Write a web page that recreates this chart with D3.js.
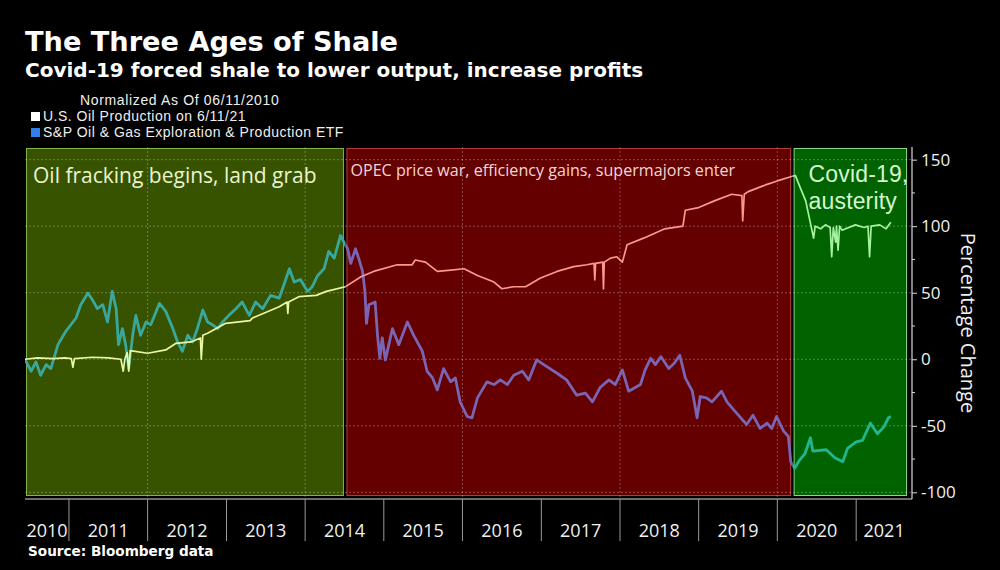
<!DOCTYPE html>
<html><head><meta charset="utf-8">
<script src="https://cdn.jsdelivr.net/npm/d3@7"></script>
<style>
html,body{margin:0;padding:0;background:#000;}
svg{display:block;}
</style></head>
<body>
<svg id="chart" width="1000" height="570"></svg>
<script>
// ---------------- DATA (dates as fractional years) ----------------
const oilTimes = [2010.44,2010.60,2010.80,2010.95,2011.03,2011.05,2011.07,2011.30,2011.50,2011.66,2011.69,2011.71,2011.74,2011.76,2011.78,2012.00,2012.23,2012.36,2012.55,2012.67,2012.68,2012.70,2012.76,2012.99,2013.30,2013.33,2013.67,2013.77,2013.78,2013.79,2013.92,2014.14,2014.27,2014.51,2014.71,2014.87,2015.17,2015.36,2015.40,2015.53,2015.68,2015.85,2016.02,2016.19,2016.40,2016.50,2016.65,2016.80,2016.99,2017.20,2017.41,2017.58,2017.67,2017.68,2017.69,2017.78,2017.79,2017.80,2017.88,2017.96,2018.03,2018.09,2018.30,2018.57,2018.80,2018.83,2019.00,2019.20,2019.42,2019.55,2019.56,2019.58,2019.63,2019.85,2020.00,2020.19,2020.23,2020.27,2020.36,2020.46,2020.48,2020.55,2020.61,2020.67,2020.69,2020.71,2020.74,2020.75,2020.77,2020.79,2020.82,2020.99,2021.10,2021.15,2021.17,2021.19,2021.30,2021.38,2021.44];
const oilValues = [0,1,0.5,1,0.5,-6,0.5,1.5,1,0,-9,0,5,-9,6.5,4.5,7,12,13,16,0,18,19.5,27,29,31,39.5,43,34.5,43,47,48,51,54.5,62,66,71,71,74.6,73,66,67,68,63,58,53,54.5,54.5,61,66,69.6,71,72,59.6,72,73,52.8,73,76,77,73,86,91,98,100,112,114,119,124,123,104,124,126,131,134,137.5,138,132,119,91,100,98,101,99,77,99,88,100,82,100,97,101,99,100,77,100,101,98,103];

const etfTimes = [2010.44,2010.52,2010.58,2010.64,2010.71,2010.77,2010.86,2010.96,2011.09,2011.15,2011.24,2011.30,2011.36,2011.43,2011.49,2011.55,2011.60,2011.63,2011.68,2011.72,2011.76,2011.81,2011.85,2011.91,2011.98,2012.04,2012.15,2012.23,2012.32,2012.38,2012.44,2012.51,2012.57,2012.63,2012.70,2012.76,2012.82,2012.89,2012.95,2013.03,2013.12,2013.20,2013.29,2013.37,2013.46,2013.56,2013.67,2013.73,2013.80,2013.86,2013.94,2014.03,2014.09,2014.16,2014.24,2014.30,2014.37,2014.45,2014.51,2014.54,2014.58,2014.64,2014.68,2014.73,2014.76,2014.78,2014.81,2014.89,2014.92,2014.95,2014.98,2015.02,2015.11,2015.19,2015.30,2015.38,2015.49,2015.55,2015.62,2015.68,2015.76,2015.85,2015.91,2015.97,2016.06,2016.12,2016.19,2016.31,2016.40,2016.48,2016.57,2016.65,2016.76,2016.84,2016.94,2017.07,2017.20,2017.32,2017.45,2017.56,2017.65,2017.75,2017.86,2017.94,2018.03,2018.11,2018.26,2018.32,2018.39,2018.45,2018.52,2018.62,2018.69,2018.76,2018.83,2018.92,2018.98,2019.02,2019.10,2019.17,2019.29,2019.36,2019.46,2019.61,2019.69,2019.78,2019.87,2019.93,2019.99,2020.08,2020.14,2020.17,2020.22,2020.28,2020.35,2020.42,2020.45,2020.62,2020.73,2020.83,2020.89,2021.00,2021.08,2021.18,2021.27,2021.35,2021.41,2021.44];
const etfValues = [0,-9,-2,-12,-4,-7,11,21,31,41,49.6,44.5,38,41,28,51,38,11,23,11,-7,18,33,18,28,26,42,36,23,13,6,18,13,23,37,28,26,23,28,33,38,43,33,43,38,48,46,56,68,58,60,51,54.5,63,68,81,76,93,86,83,72,83,76,66,51,27,41,43,18,0.7,16,-0.5,23,11,28,18,6,-9,-14,-23,-7,-17,-14,-32,-43,-44,-29,-17,-19,-15.5,-19,-12,-9,-15.5,-0.5,-5.5,-10.5,-15.5,-27,-25.5,-32,-21,-15.5,-19,-8,-24,-19,-8,0.7,-4,2,-7,-3,3,-14,-24,-44,-28,-29,-32,-24,-32,-39,-49,-42,-52,-48,-52,-43,-54,-58,-77,-82,-76,-71,-59,-69,-68,-74,-77,-67,-62,-61,-48,-56,-51,-44,-43];

const periodLabels = ["Oil fracking begins, land grab", "OPEC price war, efficiency gains, supermajors enter", "Covid-19,|austerity"];
const periodStarts = ["2010-06-11","2014-07-07","2020-03-12"];
const periodEnds   = ["2014-07-07","2020-03-12","2021-09-01"];

const yearTicks = ["2010","2011","2012","2013","2014","2015","2016","2017","2018","2019","2020","2021"];
const gridYears = ["2012","2014","2016","2018","2020"];
const yTicks = [150,100,50,0,-50,-100];
const yMinorTicks = [125,75,25,-25,-75];

const titleText = "The Three Ages of Shale";
const subtitleText = "Covid-19 forced shale to lower output, increase profits";
const noteText = "Normalized As Of 06/11/2010";
const legendLabels = ["U.S. Oil Production on 6/11/21", "S&P Oil & Gas Exploration & Production ETF"];
const sourceText = "Source: Bloomberg data";
const yAxisTitle = "Percentage Change";

// ---------------- STYLE ----------------
const periodFill   = ["#375300", "#650000", "#006300"];
const periodStroke = ["#86b24a", "#b03a3a", "#86d886"];
const periodText   = ["#e9f4cf", "#f4d6d6", "#d4f6d0"];
const oilColors = ["#e9f7a6", "#f79a8e", "#a6f2a0"];
const etfColors = ["#3aa79c", "#7a64b4", "#22b58f"];
const legendColors = ["#ffffff", "#2f80e8"];

// ---------------- CHART ----------------
const parse = d3.timeParse("%Y-%m-%d");
function fromYear(t) {
  const yr = Math.floor(t);
  const a = new Date(yr, 0, 1), b = new Date(yr + 1, 0, 1);
  return new Date(+a + (t - yr) * (b - a));
}
const svg = d3.select("#chart");
const W = 1000, H = 570;
const plot = {left: 25, right: 912, top: 147, bottom: 499};

const x = d3.scaleTime()
  .domain([parse("2010-06-11"), parse("2021-09-17")])
  .range([plot.left, plot.right]);
const y = d3.scaleLinear()
  .domain([-105, 159.5])
  .range([plot.bottom, plot.top]);

const sansB = "'DejaVu Sans', Verdana, sans-serif";
const sans = "'Open Sans', 'Noto Sans', sans-serif";
const tight = "'Liberation Sans', Arial, sans-serif";

svg.append("rect").attr("width", W).attr("height", H).attr("fill", "#000");

// titles
svg.append("text").attr("x", 25).attr("y", 51).text(titleText)
  .attr("fill", "#fff").attr("font-family", sansB).attr("font-weight", "bold").attr("font-size", 27.2);
svg.append("text").attr("x", 25).attr("y", 77).text(subtitleText)
  .attr("fill", "#fff").attr("font-family", sansB).attr("font-weight", "bold").attr("font-size", 20);

// legend
svg.append("text").attr("x", 80).attr("y", 105).text(noteText)
  .attr("fill", "#eee").attr("font-family", tight).attr("font-size", 14)
  .attr("letter-spacing", 0.65);
legendLabels.forEach((lab, i) => {
  svg.append("rect").attr("x", 31).attr("y", 112 + i * 16).attr("width", 9).attr("height", 9)
    .attr("fill", legendColors[i]);
  svg.append("text").attr("x", 43).attr("y", 121 + i * 16).text(lab)
    .attr("fill", "#eee").attr("font-family", tight).attr("font-size", 14)
    .attr("letter-spacing", 0.5);
});

// period boxes
const periods = periodStarts.map((s, i) => ({
  start: parse(s), end: parse(periodEnds[i]), label: periodLabels[i], i
}));
const defs = svg.append("defs");
periods.forEach(p => {
  defs.append("clipPath").attr("id", "clip" + p.i).append("rect")
    .attr("x", x(p.start)).attr("y", plot.top)
    .attr("width", x(p.end) - x(p.start)).attr("height", plot.bottom - plot.top);
});

svg.append("g").selectAll("rect").data(periods).join("rect")
  .attr("x", d => x(d.start) + 1.5)
  .attr("y", plot.top + 1.5)
  .attr("width", d => x(d.end) - x(d.start) - 3.5)
  .attr("height", plot.bottom - plot.top - 5)
  .attr("fill", d => periodFill[d.i])
  .attr("stroke", d => periodStroke[d.i])
  .attr("stroke-width", 1);

// gridlines
const grid = svg.append("g").attr("stroke", "rgba(255,255,255,0.28)")
  .attr("stroke-dasharray", "2,2").attr("stroke-width", 1);
yTicks.forEach(v => {
  grid.append("line").attr("x1", plot.left).attr("x2", plot.right)
    .attr("y1", y(v)).attr("y2", y(v));
});
gridYears.forEach(yr => {
  const xx = x(parse(yr + "-01-01"));
  grid.append("line").attr("x1", xx).attr("x2", xx).attr("y1", plot.top).attr("y2", plot.bottom);
});

// period labels
const labelSize = [21, 16.1, 23];
const labelFont = [sans, sans, tight];
const labelSpacing = [0, 0, 0.15];
const labelDx = [8, 5, 16];
const labelY = [183, 176, 182];
periods.forEach(p => {
  const lines = p.label.split("|");
  const t = svg.append("text")
    .attr("fill", periodText[p.i])
    .attr("font-family", labelFont[p.i])
    .attr("letter-spacing", labelSpacing[p.i])
    .attr("font-size", labelSize[p.i]);
  lines.forEach((ln, k) => {
    t.append("tspan").attr("x", x(p.start) + labelDx[p.i])
      .attr("y", labelY[p.i] + k * 26.5).text(ln);
  });
});

// lines
const oilData = oilTimes.map((t, i) => ({date: fromYear(t), v: oilValues[i]}));
const etfData = etfTimes.map((t, i) => ({date: fromYear(t), v: etfValues[i]}));
const line = d3.line().x(d => x(d.date)).y(d => y(d.v)).curve(d3.curveLinear);

periods.forEach(p => {
  const g = svg.append("g").attr("clip-path", `url(#clip${p.i})`);
  g.append("path").datum(etfData).attr("d", line)
    .attr("fill", "none").attr("stroke", etfColors[p.i]).attr("stroke-width", 2.8)
    .attr("stroke-linejoin", "round");
  g.append("path").datum(oilData).attr("d", line)
    .attr("fill", "none").attr("stroke", oilColors[p.i]).attr("stroke-width", 1.7)
    .attr("stroke-linejoin", "round");
});

// x axis
const axisColor = "#d8d8d8";
svg.append("line").attr("x1", plot.left).attr("x2", plot.right)
  .attr("y1", plot.bottom).attr("y2", plot.bottom).attr("stroke", axisColor).attr("stroke-width", 1.2);
const yearBounds = yearTicks.slice(1).map(yr => parse(yr + "-01-01"));
svg.append("g").selectAll("line").data(yearBounds).join("line")
  .attr("x1", d => x(d)).attr("x2", d => x(d))
  .attr("y1", plot.bottom).attr("y2", 541)
  .attr("stroke", "#9a9a9a").attr("stroke-width", 1);
svg.append("g").selectAll("text").data(yearTicks).join("text")
  .attr("x", (yr, i) => {
    const a = i === 0 ? plot.left : x(parse(yr + "-01-01"));
    const b = i === yearTicks.length - 1 ? plot.right : x(parse((+yr + 1) + "-01-01"));
    return (a + b) / 2;
  })
  .attr("y", 537).attr("text-anchor", "middle")
  .attr("fill", "#f0f0f0").attr("font-family", sans).attr("font-size", 18)
  .text(d => d);

// y axis (right)
const yAxis = d3.axisRight(y).tickValues(yTicks).tickSize(5).tickPadding(4)
  .tickFormat(d => d < 0 ? "-" + Math.abs(d) : d);
const ya = svg.append("g").attr("transform", `translate(${plot.right},0)`).call(yAxis);
ya.select(".domain").attr("stroke", axisColor).attr("stroke-width", 1.2)
  .attr("d", `M0,${plot.top}V${plot.bottom}`);
ya.selectAll(".tick line").attr("stroke", axisColor);
ya.selectAll(".tick text").attr("fill", "#f0f0f0").attr("font-family", sans).attr("font-size", 17);
ya.selectAll(".minor").data(yMinorTicks).join("line").attr("class", "minor")
  .attr("x1", 0).attr("x2", 3).attr("y1", d => y(d)).attr("y2", d => y(d))
  .attr("stroke", axisColor);

svg.append("text").attr("transform", `translate(961,${(plot.top + plot.bottom) / 2}) rotate(90)`)
  .attr("text-anchor", "middle").attr("fill", "#f0f0f0")
  .attr("font-family", sans).attr("font-size", 20).text(yAxisTitle);

// source
svg.append("text").attr("x", 28).attr("y", 556).text(sourceText)
  .attr("fill", "#fff").attr("font-family", sansB).attr("font-weight", "bold").attr("font-size", 13.6);
</script>
</body></html>
